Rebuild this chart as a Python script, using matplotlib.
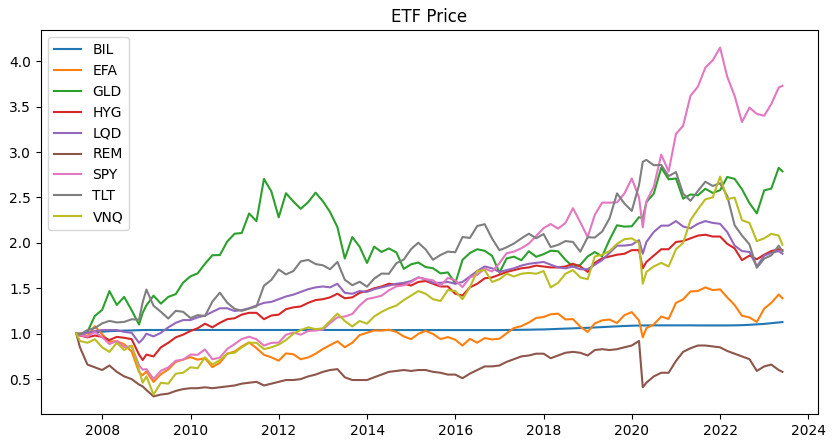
import matplotlib
matplotlib.use("Agg")
import matplotlib.pyplot as plt
import pandas as pd

# month ends, every other month, plus a few extra months around the big moves
months = [(2007, 5)]
months += [(y, m) for y in range(2007, 2024) for m in range(2, 13, 2)
           if (2007, 6) <= (y, m) <= (2023, 4)]
months += [(2008, 11), (2020, 3), (2023, 5)]
months.sort()
dates = [pd.Timestamp(y, m, 1) + pd.offsets.MonthEnd(0) for y, m in months]

tickers = ["BIL", "EFA", "GLD", "HYG", "LQD", "REM", "SPY", "TLT", "VNQ"]

# normalised prices (start = 1.0), one line per year
bil = [1.000, 1.003, 1.010, 1.017, 1.022,
       1.028, 1.031, 1.034, 1.036, 1.039, 1.040, 1.041,
       1.041, 1.041, 1.041, 1.041, 1.041, 1.041,
       1.041, 1.041, 1.041, 1.041, 1.041, 1.041,
       1.041, 1.041, 1.041, 1.041, 1.041, 1.041,
       1.041, 1.041, 1.041, 1.041, 1.041, 1.041,
       1.041, 1.041, 1.041, 1.041, 1.040, 1.040,
       1.040, 1.040, 1.040, 1.040, 1.040, 1.040,
       1.040, 1.040, 1.040, 1.040, 1.040, 1.040,
       1.040, 1.040, 1.040, 1.040, 1.040, 1.040,
       1.041, 1.042, 1.043, 1.044, 1.046, 1.047,
       1.050, 1.053, 1.056, 1.059, 1.062, 1.065,
       1.069, 1.073, 1.077, 1.081, 1.085, 1.088,
       1.090, 1.091, 1.091, 1.092, 1.092, 1.092, 1.092,
       1.092, 1.092, 1.091, 1.091, 1.091, 1.091,
       1.091, 1.092, 1.094, 1.098, 1.103, 1.108,
       1.116, 1.124, 1.128]

efa = [1.000, 1.005, 0.973, 1.083, 0.994,
       0.910, 0.919, 0.883, 0.804, 0.577, 0.543, 0.585,
       0.469, 0.554, 0.606, 0.690, 0.715, 0.742,
       0.714, 0.730, 0.632, 0.680, 0.781, 0.803,
       0.859, 0.904, 0.841, 0.768, 0.740, 0.703,
       0.783, 0.774, 0.719, 0.739, 0.779, 0.832,
       0.874, 0.916, 0.851, 0.900, 0.985, 1.010,
       1.035, 1.034, 1.044, 1.020, 0.970, 0.940,
       0.998, 1.032, 0.997, 0.941, 0.963, 0.934,
       0.869, 0.943, 0.901, 0.952, 0.937, 0.945,
       1.004, 1.063, 1.083, 1.123, 1.174, 1.184,
       1.214, 1.221, 1.157, 1.161, 1.077, 1.019,
       1.113, 1.147, 1.156, 1.118, 1.204, 1.238,
       1.146, 0.960, 1.061, 1.102, 1.189, 1.163, 1.340,
       1.378, 1.465, 1.470, 1.510, 1.480, 1.488,
       1.400, 1.316, 1.198, 1.179, 1.130, 1.276,
       1.340, 1.431, 1.391]

gld = [1.000, 0.986, 1.020, 1.195, 1.263,
       1.469, 1.317, 1.405, 1.258, 1.101, 1.229, 1.312,
       1.419, 1.331, 1.405, 1.436, 1.563, 1.632,
       1.664, 1.770, 1.864, 1.866, 2.015, 2.101,
       2.109, 2.324, 2.239, 2.704, 2.567, 2.281,
       2.547, 2.456, 2.375, 2.448, 2.553, 2.458,
       2.340, 2.173, 1.828, 2.064, 1.957, 1.779,
       1.958, 1.900, 1.939, 1.895, 1.714, 1.764,
       1.784, 1.734, 1.721, 1.664, 1.675, 1.553,
       1.813, 1.888, 1.930, 1.913, 1.857, 1.672,
       1.829, 1.848, 1.809, 1.908, 1.847, 1.876,
       1.914, 1.908, 1.813, 1.740, 1.758, 1.851,
       1.899, 1.853, 2.035, 2.194, 2.179, 2.183,
       2.283, 2.270, 2.449, 2.542, 2.828, 2.700, 2.709,
       2.487, 2.533, 2.524, 2.596, 2.550, 2.580,
       2.726, 2.705, 2.591, 2.438, 2.325, 2.578,
       2.598, 2.827, 2.788]

hyg = [1.000, 0.980, 0.960, 0.980, 0.965,
       0.930, 0.965, 0.955, 0.940, 0.770, 0.710, 0.770,
       0.750, 0.850, 0.900, 0.960, 0.990, 1.030,
       1.060, 1.110, 1.070, 1.120, 1.160, 1.170,
       1.210, 1.230, 1.230, 1.160, 1.200, 1.210,
       1.270, 1.290, 1.300, 1.340, 1.370, 1.380,
       1.400, 1.440, 1.390, 1.400, 1.450, 1.470,
       1.500, 1.520, 1.550, 1.540, 1.550, 1.530,
       1.570, 1.580, 1.550, 1.520, 1.520, 1.440,
       1.420, 1.510, 1.550, 1.610, 1.620, 1.650,
       1.680, 1.700, 1.720, 1.730, 1.750, 1.740,
       1.730, 1.730, 1.740, 1.770, 1.740, 1.680,
       1.780, 1.830, 1.850, 1.870, 1.880, 1.920,
       1.920, 1.720, 1.790, 1.860, 1.930, 1.930, 2.010,
       2.020, 2.050, 2.080, 2.090, 2.070, 2.070,
       1.990, 1.940, 1.810, 1.860, 1.820, 1.870,
       1.910, 1.930, 1.920]

lqd = [1.000, 0.990, 1.010, 1.030, 1.040,
       1.040, 1.040, 1.020, 1.010, 0.900, 0.940, 1.000,
       0.970, 1.010, 1.070, 1.120, 1.150, 1.150,
       1.180, 1.200, 1.240, 1.280, 1.280, 1.250,
       1.260, 1.280, 1.310, 1.340, 1.350, 1.380,
       1.410, 1.430, 1.460, 1.490, 1.510, 1.520,
       1.510, 1.550, 1.450, 1.440, 1.470, 1.460,
       1.490, 1.510, 1.530, 1.550, 1.560, 1.580,
       1.620, 1.600, 1.560, 1.560, 1.570, 1.550,
       1.570, 1.630, 1.690, 1.740, 1.720, 1.680,
       1.700, 1.720, 1.750, 1.770, 1.780, 1.790,
       1.760, 1.730, 1.720, 1.740, 1.710, 1.710,
       1.760, 1.810, 1.890, 1.970, 1.970, 1.980,
       2.030, 1.880, 2.010, 2.120, 2.190, 2.190, 2.240,
       2.180, 2.160, 2.210, 2.240, 2.220, 2.210,
       2.120, 1.970, 1.910, 1.900, 1.740, 1.860,
       1.890, 1.910, 1.880]

rem = [1.000, 0.850, 0.660, 0.630, 0.600,
       0.650, 0.580, 0.530, 0.500, 0.440, 0.420, 0.380,
       0.310, 0.330, 0.340, 0.370, 0.390, 0.400,
       0.400, 0.410, 0.400, 0.410, 0.420, 0.430,
       0.450, 0.460, 0.470, 0.430, 0.450, 0.470,
       0.490, 0.490, 0.500, 0.530, 0.550, 0.580,
       0.600, 0.610, 0.520, 0.490, 0.490, 0.490,
       0.520, 0.550, 0.580, 0.590, 0.600, 0.590,
       0.600, 0.600, 0.580, 0.570, 0.550, 0.550,
       0.510, 0.560, 0.600, 0.640, 0.640, 0.650,
       0.690, 0.720, 0.750, 0.760, 0.780, 0.780,
       0.730, 0.760, 0.790, 0.800, 0.790, 0.760,
       0.820, 0.830, 0.820, 0.830, 0.850, 0.870,
       0.920, 0.410, 0.460, 0.530, 0.570, 0.570, 0.700,
       0.800, 0.840, 0.870, 0.870, 0.860, 0.850,
       0.810, 0.780, 0.750, 0.720, 0.590, 0.640,
       0.660, 0.600, 0.580]

spy = [1.000, 0.983, 0.968, 1.017, 0.964,
       0.886, 0.919, 0.854, 0.863, 0.652, 0.604, 0.610,
       0.501, 0.592, 0.629, 0.703, 0.714, 0.770,
       0.768, 0.827, 0.718, 0.737, 0.832, 0.886,
       0.941, 0.967, 0.939, 0.869, 0.899, 0.902,
       0.988, 1.013, 0.989, 1.030, 1.035, 1.046,
       1.117, 1.180, 1.189, 1.217, 1.311, 1.382,
       1.398, 1.418, 1.478, 1.521, 1.533, 1.567,
       1.618, 1.601, 1.587, 1.529, 1.614, 1.588,
       1.513, 1.618, 1.649, 1.717, 1.685, 1.777,
       1.886, 1.904, 1.941, 1.992, 2.077, 2.162,
       2.208, 2.157, 2.219, 2.382, 2.228, 2.064,
       2.309, 2.443, 2.443, 2.446, 2.544, 2.709,
       2.500, 2.171, 2.458, 2.617, 2.972, 2.786, 3.200,
       3.290, 3.620, 3.720, 3.930, 4.010, 4.150,
       3.830, 3.620, 3.330, 3.490, 3.420, 3.400,
       3.530, 3.710, 3.730]

tlt = [1.000, 0.990, 1.040, 1.062, 1.114,
       1.141, 1.124, 1.130, 1.159, 1.154, 1.345, 1.486,
       1.308, 1.241, 1.167, 1.252, 1.241, 1.172,
       1.205, 1.194, 1.353, 1.452, 1.341, 1.274,
       1.252, 1.277, 1.300, 1.529, 1.592, 1.707,
       1.653, 1.690, 1.796, 1.813, 1.767, 1.753,
       1.710, 1.790, 1.594, 1.534, 1.572, 1.518,
       1.606, 1.662, 1.660, 1.777, 1.816, 1.932,
       2.002, 1.928, 1.814, 1.867, 1.904, 1.897,
       2.065, 2.054, 2.186, 2.206, 2.047, 1.920,
       1.951, 1.993, 2.049, 2.101, 2.051, 2.097,
       1.954, 1.978, 2.020, 2.010, 1.903, 2.062,
       2.059, 2.125, 2.270, 2.545, 2.434, 2.352,
       2.637, 2.893, 2.914, 2.855, 2.858, 2.735, 2.780,
       2.541, 2.463, 2.571, 2.674, 2.627, 2.656,
       2.518, 2.194, 2.081, 1.984, 1.726, 1.827,
       1.863, 1.970, 1.906]

vnq = [1.000, 0.920, 0.900, 0.940, 0.850,
       0.800, 0.900, 0.820, 0.870, 0.600, 0.460, 0.530,
       0.330, 0.460, 0.450, 0.560, 0.570, 0.630,
       0.620, 0.740, 0.660, 0.710, 0.780, 0.790,
       0.850, 0.900, 0.900, 0.830, 0.850, 0.880,
       0.930, 1.000, 1.040, 1.070, 1.050, 1.060,
       1.140, 1.220, 1.140, 1.080, 1.140, 1.110,
       1.190, 1.240, 1.280, 1.310, 1.370, 1.420,
       1.470, 1.440, 1.380, 1.360, 1.480, 1.470,
       1.380, 1.510, 1.690, 1.700, 1.570, 1.600,
       1.660, 1.630, 1.660, 1.670, 1.660, 1.690,
       1.510, 1.560, 1.660, 1.700, 1.620, 1.600,
       1.850, 1.870, 1.910, 1.990, 2.040, 2.050,
       2.000, 1.550, 1.680, 1.740, 1.780, 1.740, 1.930,
       2.000, 2.250, 2.370, 2.480, 2.500, 2.730,
       2.480, 2.500, 2.250, 2.220, 2.020, 2.050,
       2.100, 2.080, 1.980]

series = [bil, efa, gld, hyg, lqd, rem, spy, tlt, vnq]

fig, ax = plt.subplots(figsize=(8.37, 4.44), dpi=100)
fig.subplots_adjust(left=0.049, right=0.977, top=0.932, bottom=0.068)

for name, vals in zip(tickers, series):
    ax.plot(dates, vals, label=name)

ax.set_title("ETF Price")
ax.legend(loc="upper left")

fig.savefig("out.png", dpi=100)
